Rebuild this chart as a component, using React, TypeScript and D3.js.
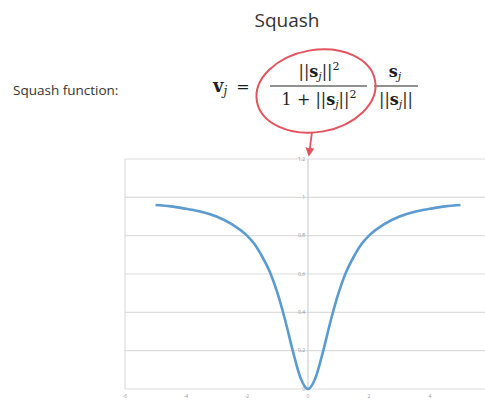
import * as d3 from "d3";

const width = 485;
const height = 400;

// curve
const xValues = [-5, -4.5, -4, -3.5, -3, -2.5, -2, -1.75, -1.5, -1.25, -1, -0.75, -0.5, -0.25, 0,
  0.25, 0.5, 0.75, 1, 1.25, 1.5, 1.75, 2, 2.5, 3, 3.5, 4, 4.5, 5];
const yValues = [0.96, 0.953, 0.94, 0.925, 0.9, 0.86, 0.8, 0.755, 0.69, 0.61, 0.5, 0.36, 0.2, 0.06, 0,
  0.06, 0.2, 0.36, 0.5, 0.61, 0.69, 0.755, 0.8, 0.86, 0.9, 0.925, 0.94, 0.953, 0.96];

const yTicks = [0, 0.2, 0.4, 0.6, 0.8, 1, 1.2];
const yTickLabels = ["0", "0,2", "0,4", "0,6", "0,8", "1", "1,2"];
const xTicks = [-6, -4, -2, 0, 2, 4];
const xTickLabels = ["-6", "-4", "-2", "0", "2", "4"];

const plot = { left: 125, top: 159, bottom: 389 };

const x = d3.scaleLinear().domain([-6, 0]).range([plot.left, 308]);
const y = d3.scaleLinear().domain([0, 1.2]).range([plot.bottom, plot.top]);

const line = d3.line<number>()
  .x((_, i) => x(xValues[i]))
  .y((d) => y(d))
  .curve(d3.curveMonotoneX);

const serif = "'DejaVu Serif', 'Liberation Serif', serif";
const red = "#e2545e";

// ||s_j|| with optional square
function Norm({ sq }: { sq?: boolean }) {
  return (
    <>
      <tspan>||</tspan>
      <tspan fontWeight="bold">s</tspan>
      <tspan fontStyle="italic" fontSize={11} dy={3}>j</tspan>
      <tspan dy={-3}>||</tspan>
      {sq && <tspan fontSize={11} dy={-7}>2</tspan>}
    </>
  );
}

export default function App() {
  return (
    <svg width={width} height={height} style={{ position: "absolute", left: 0, top: 0, background: "#fff" }}>
      {/* ── Titles ─────────────────────────────── */}
      <text x={287} y={27} textAnchor="middle" fontSize={19} fontFamily="'Open Sans', sans-serif" fill="#333">
        Squash
      </text>
      <text x={13} y={95} fontSize={13.5} fontFamily="'Open Sans', sans-serif" fill="#333">
        Squash function:
      </text>

      {/* ── Formula ────────────────────────────── */}
      <g fontFamily={serif} fill="#1e1e1e" fontSize={16}>
        <text x={213} y={92}>
          <tspan fontWeight="bold" fontSize={18}>v</tspan>
          <tspan fontStyle="italic" fontSize={12} dy={3}>j</tspan>
          <tspan dy={-3} dx={9}>=</tspan>
        </text>
        <line x1={270} x2={367} y1={86} y2={86} stroke="#222" strokeWidth={1.1} />
        <text x={319} y={77} textAnchor="middle"><Norm sq /></text>
        <text x={319} y={105} textAnchor="middle">1 + <Norm sq /></text>
        <line x1={374} x2={418} y1={86} y2={86} stroke="#222" strokeWidth={1.1} />
        <text x={395} y={77} textAnchor="middle">
          <tspan fontWeight="bold">s</tspan>
          <tspan fontStyle="italic" fontSize={11} dy={3}>j</tspan>
        </text>
        <text x={396} y={105} textAnchor="middle"><Norm /></text>
      </g>

      {/* ── Red highlight ──────────────────────── */}
      <defs>
        <marker id="arrow" viewBox="0 0 10 10" refX={8} refY={5} markerWidth={5} markerHeight={5} orient="auto">
          <path d="M0,0 L10,5 L0,10 z" fill={red} />
        </marker>
      </defs>
      <ellipse cx={316} cy={91} rx={60} ry={41} fill="none" stroke={red} strokeWidth={2}
        transform="rotate(-10 316 91)" />
      <line x1={312} y1={132} x2={309} y2={155} stroke={red} strokeWidth={1.8} markerEnd="url(#arrow)" />

      {/* ── Chart ──────────────────────────────── */}
      <g fontFamily="'Open Sans', sans-serif">
        {yTicks.map((t, i) => (
          <g key={i}>
            <line x1={plot.left} x2={width} y1={y(t)} y2={y(t)} stroke="#dcdcdc" strokeWidth={1.2} />
            <text x={305} y={y(t)} dy="0.35em" textAnchor="end" fontSize={5} fill="#999">
              {yTickLabels[i]}
            </text>
          </g>
        ))}
        <line x1={plot.left} x2={plot.left} y1={plot.top} y2={plot.bottom} stroke="#dcdcdc" strokeWidth={1.2} />
        <line x1={x(0)} x2={x(0)} y1={plot.top} y2={plot.bottom} stroke="#d0d0d0" strokeWidth={1.2} />
        {xTicks.map((t, i) => (
          <text key={i} x={x(t)} y={398} textAnchor="middle" fontSize={5} fill="#999">
            {xTickLabels[i]}
          </text>
        ))}
        <path d={line(yValues) ?? ""} fill="none" stroke="#5b9bcf" strokeWidth={2.6} />
      </g>
    </svg>
  );
}
